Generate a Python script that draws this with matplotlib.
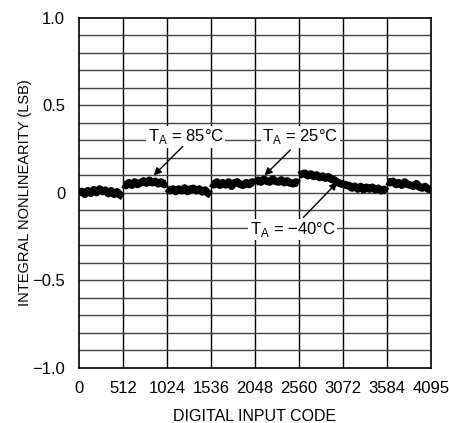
import matplotlib
matplotlib.use("Agg")
import matplotlib.pyplot as plt
import numpy as np

plt.rcParams["font.family"] = ["Liberation Sans", "DejaVu Sans"]
plt.rcParams["mathtext.fontset"] = "custom"
plt.rcParams["mathtext.rm"] = "Liberation Sans"
plt.rcParams["axes.unicode_minus"] = True

# -------------------------
# Data
# -------------------------
seg_len = 512
x_ticks = [0, 512, 1024, 1536, 2048, 2560, 3072, 3584, 4095]
x_tick_labels = ["0", "512", "1024", "1536", "2048", "2560", "3072", "3584", "4095"]
y_ticks = [-1.0, -0.5, 0.0, 0.5, 1.0]
y_tick_labels = ["\u22121.0", "\u22120.5", "0", "0.5", "1.0"]

# INL per major-carry segment, 16 samples each
inl_seg1 = [0.00, 0.008, -0.008, 0.012, -0.002, 0.018, 0.002, 0.022, 0.008, 0.016, -0.004, 0.012, -0.008, 0.006, -0.012, -0.022]
inl_seg2 = [0.05, 0.042, 0.058, 0.044, 0.062, 0.048, 0.058, 0.068, 0.056, 0.072, 0.058, 0.066, 0.052, 0.062, 0.048, 0.056]
inl_seg3 = [0.026, 0.012, 0.022, 0.008, 0.022, 0.012, 0.028, 0.008, 0.022, 0.026, 0.012, 0.022, 0.006, 0.016, -0.002, -0.012]
inl_seg4 = [0.056, 0.046, 0.062, 0.044, 0.058, 0.046, 0.062, 0.038, 0.058, 0.062, 0.048, 0.044, 0.058, 0.048, 0.062, 0.05]
inl_seg5 = [0.058, 0.072, 0.062, 0.078, 0.066, 0.062, 0.078, 0.066, 0.062, 0.074, 0.058, 0.068, 0.056, 0.052, 0.062, 0.052]
inl_seg6 = [0.10, 0.108, 0.112, 0.098, 0.108, 0.094, 0.102, 0.088, 0.096, 0.084, 0.092, 0.078, 0.074, 0.06, 0.054, 0.048]
inl_seg7 = [0.052, 0.044, 0.042, 0.028, 0.038, 0.022, 0.036, 0.018, 0.032, 0.022, 0.032, 0.018, 0.026, 0.012, 0.02, 0.008]
inl_seg8 = [0.066, 0.058, 0.066, 0.048, 0.058, 0.044, 0.062, 0.048, 0.044, 0.038, 0.052, 0.034, 0.028, 0.036, 0.022, 0.018]
segments = [inl_seg1, inl_seg2, inl_seg3, inl_seg4, inl_seg5, inl_seg6, inl_seg7, inl_seg8]

# -------------------------
# Figure
# -------------------------
fig = plt.figure(figsize=(4.49, 4.23), dpi=100)
ax = fig.add_axes([0.176, 0.130, 0.784, 0.828])

for k, seg in enumerate(segments):
    start = k * seg_len
    end = min(start + seg_len - 1, 4095)
    xs = np.linspace(start, end, len(seg))
    ax.plot(xs, seg, color="black", lw=5.5, solid_capstyle="butt",
            solid_joinstyle="round", zorder=3)

ax.set_xlim(0, 4095)
ax.set_ylim(-1.0, 1.0)

# grid: every 512 codes, every 0.1 LSB
for xv in x_ticks[1:-1]:
    ax.axvline(xv, color="black", lw=1.0, zorder=1)
for yv in np.arange(-0.9, 0.95, 0.1):
    ax.axhline(yv, color="#444444", lw=1.0, zorder=1)

ax.set_xticks(x_ticks)
ax.set_xticklabels(x_tick_labels, fontsize=12)
ax.set_yticks(y_ticks)
ax.set_yticklabels(y_tick_labels, fontsize=12)
ax.tick_params(axis="x", length=0, pad=9)
ax.tick_params(axis="y", length=0, pad=10)
for s in ax.spines.values():
    s.set_linewidth(1.2)

ax.set_xlabel("DIGITAL INPUT CODE", fontsize=11.5)
ax.set_ylabel("INTEGRAL NONLINEARITY (LSB)", fontsize=10.5)
ax.xaxis.set_label_coords(0.5, -0.118)
ax.yaxis.set_label_coords(-0.135, 0.5)

# annotations
box = dict(facecolor="white", edgecolor="none", pad=1.0)
arrow = dict(arrowstyle="-|>", color="black", lw=1.0, mutation_scale=11, shrinkA=0, shrinkB=0)

ax.text(1241, 0.32, r"T$_\mathrm{A}$ = 85°C", fontsize=12, ha="center", va="center", bbox=box, zorder=5)
ax.annotate("", xy=(870, 0.10), xytext=(1206, 0.265), arrowprops=arrow, zorder=5)

ax.text(2575, 0.32, r"T$_\mathrm{A}$ = 25°C", fontsize=12, ha="center", va="center", bbox=box, zorder=5)
ax.annotate("", xy=(2158, 0.10), xytext=(2459, 0.245), arrowprops=arrow, zorder=5)

ax.text(2483, -0.21, "T$_\\mathrm{A}$ = \u221240°C", fontsize=12, ha="center", va="center", bbox=box, zorder=5)
ax.annotate("", xy=(3004, 0.06), xytext=(2610, -0.14), arrowprops=arrow, zorder=5)

fig.savefig("out.png", dpi=100)
